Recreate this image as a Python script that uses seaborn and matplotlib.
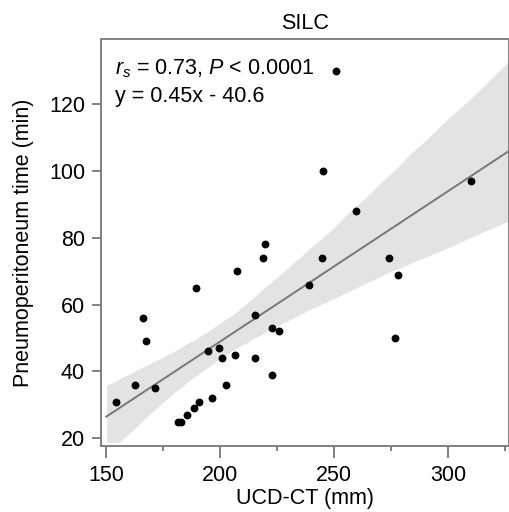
import numpy as np
import pandas as pd
import matplotlib
matplotlib.use("Agg")
import matplotlib.pyplot as plt
import seaborn as sns
from matplotlib.ticker import MultipleLocator
from matplotlib.patches import Rectangle

# Values
ucd_ct = [154.4, 162.6, 166.4, 167.5, 171.6, 181.7, 182.7, 185.7, 188.7, 190.6,
          189.6, 194.6, 196.6, 199.7, 200.7, 202.6, 206.6, 207.6, 215.5, 215.5,
          218.7, 219.7, 222.8, 222.8, 225.9, 238.9, 244.9, 274.0, 277.9, 276.9,
          250.9, 245.0, 259.8, 310.2]
pneumo_time = [31, 36, 56, 49, 35, 25, 25, 27, 29, 31,
               65, 46, 32, 47, 44, 36, 45, 70, 57, 44,
               74, 78, 53, 39, 52, 66, 74, 74, 69, 50,
               130, 100, 88, 97]

title = "SILC"
stat_line1 = r"$r_s$ = 0.73, $P$ < 0.0001"
stat_line2 = "y = 0.45x - 40.6"

df = pd.DataFrame({"x": ucd_ct, "y": pneumo_time})

sns.set_style("white")
plt.rcParams['font.family'] = ['Liberation Sans', 'DejaVu Sans']
plt.rcParams['mathtext.fontset'] = 'custom'
plt.rcParams['mathtext.rm'] = 'Liberation Sans'
plt.rcParams['mathtext.it'] = 'Liberation Sans:italic'
plt.rcParams['text.color'] = 'black'
plt.rcParams['axes.labelcolor'] = 'black'

fs = 15.5

fig = plt.figure(figsize=(5.1, 5.12), dpi=100)
ax = fig.add_axes([0.198, 0.129, 0.8, 0.795])

# fit line and band start at x=150, like the reference
ax.set_xlim(150, 326.8)
ax.set_ylim(17.7, 139.5)

sns.regplot(data=df, x="x", y="y", ax=ax, truncate=False, seed=1,
            scatter_kws={"color": "black", "s": 32, "linewidths": 0, "alpha": 1, "zorder": 3},
            line_kws={"color": "#777777", "linewidth": 1.4, "zorder": 2})
band = ax.collections[1]
band.set_facecolor("#e3e3e3")
band.set_alpha(1)
# band is cut off a little above the bottom frame
clip = Rectangle((150, 19), 200, 200, transform=ax.transData)
band.set_clip_path(clip)

ax.set_xlim(147.8, 326.8)
ax.set_ylim(17.7, 139.5)
ax.set_xticks([150, 200, 250, 300])
ax.xaxis.set_minor_locator(MultipleLocator(25))
ax.set_yticks([20, 40, 60, 80, 100, 120])

for s in ax.spines.values():
    s.set_color("#808080")
    s.set_linewidth(1.4)
ax.tick_params(axis="y", which="major", direction="out", length=6.5, width=1.4,
               color="#808080", labelcolor="black", labelsize=fs, left=True, pad=5)
ax.tick_params(axis="x", which="major", direction="out", length=8.5, width=1.4,
               color="#808080", labelcolor="black", labelsize=fs, bottom=True, pad=5)
ax.tick_params(axis="x", which="minor", direction="out", length=3.5, width=1.4,
               color="#808080", bottom=True)

ax.set_xlabel("UCD-CT (mm)", fontsize=fs, labelpad=2)
ax.set_ylabel("Pneumoperitoneum time (min)", fontsize=fs, labelpad=11)
ax.set_title(title, fontsize=fs, pad=7)

ax.text(0.035, 0.955, stat_line1, transform=ax.transAxes, fontsize=fs, va="top", ha="left")
ax.text(0.035, 0.885, stat_line2, transform=ax.transAxes, fontsize=fs, va="top", ha="left")

fig.savefig("out.png", dpi=100)
